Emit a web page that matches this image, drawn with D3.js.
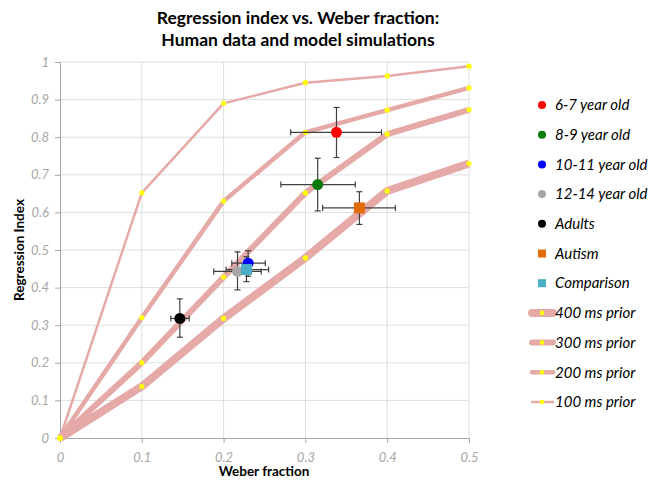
<!DOCTYPE html>
<html>
<head>
<meta charset="utf-8">
<script src="https://cdn.jsdelivr.net/npm/d3@7"></script>
<style>
	body { margin: 0; background: #fff; }
	svg { display: block; font-family: Lato, "Open Sans", sans-serif; }
</style>
</head>
<body>
<div id="chart"></div>
<script>
// model curves (regression index at each weber fraction)
const weberSteps = [0, 0.1, 0.2, 0.3, 0.4, 0.5];
const prior400 = [0, 0.137, 0.318, 0.479, 0.657, 0.73];
const prior300 = [0, 0.2, 0.428, 0.652, 0.808, 0.873];
const prior200 = [0, 0.32, 0.63, 0.813, 0.872, 0.931];
const prior100 = [0, 0.652, 0.89, 0.945, 0.963, 0.989];

// human data
const groupNames = ['6-7 year old', '8-9 year old', '10-11 year old', '12-14 year old', 'Adults', 'Autism', 'Comparison'];
const groupWeber = [0.338, 0.315, 0.230, 0.217, 0.1465, 0.366, 0.228];
const groupIndex = [0.813, 0.674, 0.465, 0.443, 0.318, 0.612, 0.448];
const weberLow = [0.282, 0.270, 0.210, 0.188, 0.1355, 0.321, 0.203];
const weberHigh = [0.393, 0.361, 0.251, 0.246, 0.158, 0.410, 0.255];
const indexLow = [0.746, 0.604, 0.430, 0.394, 0.268, 0.568, 0.416];
const indexHigh = [0.879, 0.744, 0.498, 0.495, 0.370, 0.655, 0.482];

const xTicks = [0, 0.1, 0.2, 0.3, 0.4, 0.5];
const yTicks = [0, 0.1, 0.2, 0.3, 0.4, 0.5, 0.6, 0.7, 0.8, 0.9, 1];

const width = 651;
const height = 483;

const groupColors = ['#ff0000', '#0a7a0a', '#0000ff', '#a6a6a6', '#000000', '#e36c09', '#4bacc6'];
const groupShapes = ['circle', 'circle', 'circle', 'circle', 'circle', 'square', 'square'];
const lineColor = '#e5a9a7';

const x = d3.scaleLinear().domain([0, 0.5]).range([60, 469]);
const y = d3.scaleLinear().domain([0, 1]).range([438, 62]);

const svg = d3.select('#chart')
	.append('svg')
	.attr('width', width)
	.attr('height', height);

// title
svg.append('text')
	.attr('x', 298)
	.attr('y', 24)
	.attr('text-anchor', 'middle')
	.attr('font-weight', 'bold')
	.attr('font-size', 17.5)
	.text('Regression index vs. Weber fraction:');
svg.append('text')
	.attr('x', 298)
	.attr('y', 46)
	.attr('text-anchor', 'middle')
	.attr('font-weight', 'bold')
	.attr('font-size', 17.5)
	.text('Human data and model simulations');

// grid
svg.append('g')
	.selectAll('line')
	.data(yTicks.slice(1))
	.join('line')
	.attr('x1', x(0)).attr('x2', x(0.5))
	.attr('y1', d => y(d)).attr('y2', d => y(d))
	.attr('stroke', '#dedede');
svg.append('g')
	.selectAll('line')
	.data(xTicks.slice(1))
	.join('line')
	.attr('x1', d => x(d)).attr('x2', d => x(d))
	.attr('y1', y(0)).attr('y2', y(1))
	.attr('stroke', '#dedede');

// axes
const fmt = d => String(+d.toFixed(1));
const xAxis = svg.append('g')
	.attr('transform', `translate(0,${y(0)})`)
	.call(d3.axisBottom(x).tickValues(xTicks).tickFormat(fmt).tickSize(5).tickSizeOuter(0));
const yAxis = svg.append('g')
	.attr('transform', `translate(${x(0)},0)`)
	.call(d3.axisLeft(y).tickValues(yTicks).tickFormat(fmt).tickSize(5).tickSizeOuter(0));

[xAxis, yAxis].forEach(a => {
	a.select('.domain').attr('stroke', '#a6a6a6');
	a.selectAll('.tick line').attr('stroke', '#a6a6a6');
	a.selectAll('.tick text')
		.attr('fill', '#a6a6a6')
		.attr('font-style', 'italic')
		.attr('font-size', 13)
		.attr('font-family', 'Lato, sans-serif');
});
xAxis.selectAll('.tick text').attr('dy', '1.2em');
yAxis.selectAll('.tick text').attr('x', -11);

// axis titles
svg.append('text')
	.attr('x', 264)
	.attr('y', 476)
	.attr('text-anchor', 'middle')
	.attr('font-weight', 'bold')
	.attr('font-size', 13.5)
	.text('Weber fraction');
svg.append('text')
	.attr('transform', 'translate(24,250) rotate(-90)')
	.attr('text-anchor', 'middle')
	.attr('font-weight', 'bold')
	.attr('font-size', 13.5)
	.text('Regression Index');

// model lines
const priors = [
	{name: '400 ms prior', values: prior400, w: 8},
	{name: '300 ms prior', values: prior300, w: 6},
	{name: '200 ms prior', values: prior200, w: 4.5},
	{name: '100 ms prior', values: prior100, w: 2.5}
];

const line = d3.line()
	.x((d, i) => x(weberSteps[i]))
	.y(d => y(d));

const curves = svg.append('g');
priors.forEach(p => {
	curves.append('path')
		.datum(p.values)
		.attr('d', line)
		.attr('fill', 'none')
		.attr('stroke', lineColor)
		.attr('stroke-width', p.w)
		.attr('stroke-linejoin', 'round');
});
priors.forEach(p => {
	curves.selectAll(null)
		.data(p.values)
		.join('circle')
		.attr('cx', (d, i) => x(weberSteps[i]))
		.attr('cy', d => y(d))
		.attr('r', 2.6)
		.attr('fill', '#ffff00');
});

// human data with error bars
const groups = groupNames.map((name, i) => ({
	name, color: groupColors[i], shape: groupShapes[i],
	wx: groupWeber[i], ri: groupIndex[i],
	x0: weberLow[i], x1: weberHigh[i], y0: indexLow[i], y1: indexHigh[i]
}));

const err = svg.append('g').attr('stroke', '#404040').attr('stroke-width', 1.2);
const cap = 3;
groups.forEach(g => {
	err.append('line').attr('x1', x(g.x0)).attr('x2', x(g.x1)).attr('y1', y(g.ri)).attr('y2', y(g.ri));
	err.append('line').attr('x1', x(g.wx)).attr('x2', x(g.wx)).attr('y1', y(g.y0)).attr('y2', y(g.y1));
	[g.x0, g.x1].forEach(v => err.append('line')
		.attr('x1', x(v)).attr('x2', x(v)).attr('y1', y(g.ri) - cap).attr('y2', y(g.ri) + cap));
	[g.y0, g.y1].forEach(v => err.append('line')
		.attr('x1', x(g.wx) - cap).attr('x2', x(g.wx) + cap).attr('y1', y(v)).attr('y2', y(v)));
});

const marks = svg.append('g');
// draw order as in the reference: grey under blue, squares on top
[4, 1, 0, 3, 2, 5, 6].forEach(i => {
	const g = groups[i];
	if (g.shape === 'circle') {
		marks.append('circle')
			.attr('cx', x(g.wx)).attr('cy', y(g.ri)).attr('r', 5.5)
			.attr('fill', g.color);
	} else {
		marks.append('rect')
			.attr('x', x(g.wx) - 5.5).attr('y', y(g.ri) - 5.5)
			.attr('width', 11).attr('height', 11)
			.attr('fill', g.color);
	}
});

// legend
const legend = svg.append('g').attr('font-style', 'italic').attr('font-size', 15);
const legendItems = groups.map(g => ({name: g.name, kind: g.shape, color: g.color}))
	.concat(priors.map(p => ({name: p.name, kind: 'line', w: p.w})));

const row = legend.selectAll('g')
	.data(legendItems)
	.join('g')
	.attr('transform', (d, i) => `translate(542,${105 + i * 29.7})`);

row.each(function(d) {
	const g = d3.select(this);
	if (d.kind === 'circle') {
		g.append('circle').attr('r', 4).attr('fill', d.color);
	} else if (d.kind === 'square') {
		g.append('rect').attr('x', -4).attr('y', -4).attr('width', 8).attr('height', 8).attr('fill', d.color);
	} else {
		g.append('line').attr('x1', -10).attr('x2', 11)
			.attr('stroke', lineColor).attr('stroke-width', d.w).attr('stroke-linecap', 'round');
		g.append('circle').attr('r', 2.3).attr('fill', '#ffff00');
	}
	g.append('text')
		.attr('x', 13)
		.attr('dy', '0.35em')
		.text(d.name);
});
</script>
</body>
</html>
